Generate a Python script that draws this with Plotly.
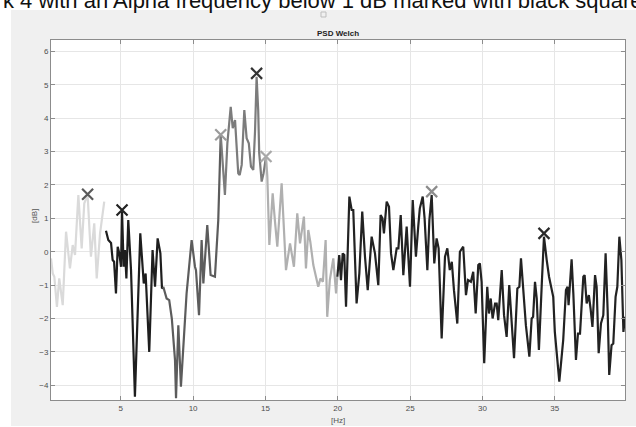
import plotly.graph_objects as go

# ---- data ----
delta_f = [0.18, 0.30, 0.41, 0.59, 0.75, 0.99, 1.22, 1.49, 1.68, 1.84, 2.07, 2.30, 2.48, 2.71, 2.94, 3.17, 3.34, 3.57, 3.86]
delta_p = [-0.2, -0.65, -0.75, -1.65, -0.8, -1.6, 0.6, -0.5, 0.2, -0.1, 1.7, 0.1, 1.45, 1.7, -0.15, 0.85, -0.8, 0.55, 1.5]

theta_f = [3.98, 4.14, 4.33, 4.44, 4.54, 4.67, 4.79, 4.90, 5.02, 5.09, 5.20, 5.29, 5.39, 5.52, 5.71, 5.98, 6.35, 6.59, 6.72, 6.97, 7.20, 7.37, 7.55, 7.74, 7.85, 7.94]
theta_p = [0.63, 0.35, 0.26, -0.25, -0.3, -1.25, 0.15, -0.05, -0.45, 1.2, -0.45, 0.05, -0.8, 0.95, -0.55, -4.34, 0.55, -0.95, -0.65, -3.0, 0.05, -1.05, 0.4, -0.05, -1.1, -1.05]

alpha_f = [7.94, 8.17, 8.35, 8.53, 8.75, 8.82, 8.98, 9.16, 9.55, 9.90, 10.13, 10.20, 10.41, 10.59, 10.71, 10.98, 11.21, 11.51, 11.74, 11.91]
alpha_p = [-1.05, -1.4, -1.45, -2.0, -3.24, -4.39, -2.2, -4.04, -1.25, 0.35, -0.45, -0.55, -1.9, 0.35, -0.95, 0.8, -0.7, -0.75, 0.95, 3.5]

beta1_f = [11.91, 12.09, 12.20, 12.37, 12.60, 12.74, 12.90, 13.12, 13.22, 13.36, 13.54, 13.70, 13.85, 14.00, 14.16, 14.28, 14.39, 14.50, 14.57, 14.74, 14.87, 15.04]
beta1_p = [3.5, 2.45, 1.7, 3.25, 4.34, 3.7, 3.94, 2.35, 2.3, 2.6, 4.24, 3.4, 3.25, 2.55, 2.45, 3.6, 5.24, 4.24, 2.95, 2.1, 2.35, 2.85]

beta2_f = [15.04, 15.13, 15.27, 15.50, 15.66, 15.82, 16.12, 16.42, 16.70, 16.97, 17.20, 17.39, 17.66, 17.80, 17.96, 18.10, 18.31, 18.65, 18.80, 18.97, 19.16, 19.27, 19.45, 19.69, 19.88, 19.97]
beta2_p = [2.85, 2.25, 0.2, 1.75, 0.9, 0.15, 2.05, -0.55, 0.25, -0.45, 1.15, 0.25, 1.05, -0.5, 0.65, 0.3, -0.4, -1.05, -0.8, -0.9, 0.35, -1.95, -0.85, -0.2, -1.25, -0.75]

gamma_f = [19.97, 20.10, 20.22, 20.34, 20.45, 20.57, 20.80, 20.96, 21.07, 21.30, 21.49, 21.69, 21.88, 22.07, 22.34, 22.57, 22.80, 22.96, 23.09, 23.19,
           23.38, 23.54, 23.68, 23.84, 24.07, 24.19, 24.35, 24.53, 24.76, 24.99, 25.18, 25.40, 25.56, 25.67, 25.87, 26.00, 26.19, 26.33, 26.49, 26.67,
           26.83, 26.97, 27.18, 27.41, 27.57, 27.74, 27.88, 28.03, 28.26, 28.44, 28.67, 28.86, 29.00, 29.20, 29.36, 29.53, 29.71, 29.82, 29.94, 30.12,
           30.33, 30.45, 30.57, 30.70, 30.87, 30.98, 31.09, 31.33, 31.49, 31.67, 31.85, 32.00, 32.18, 32.41, 32.55, 32.66, 32.82, 33.00, 33.24, 33.40,
           33.50, 33.63, 33.75, 33.90, 34.10, 34.25, 34.44, 34.60, 34.89, 35.00, 35.31, 35.58, 35.77, 35.88, 35.95, 36.16, 36.28, 36.46, 36.60, 36.74,
           36.97, 37.06, 37.20, 37.35, 37.47, 37.60, 37.78, 37.89, 38.03, 38.19, 38.35, 38.51, 38.65, 38.76, 38.92, 39.04, 39.20, 39.32, 39.46, 39.60,
           39.74, 39.85]
gamma_p = [-0.75, -0.1, -0.85, -0.05, -0.1, -1.65, 1.65, 1.25, 1.25, -1.55, -0.65, 1.2, -0.15, -1.15, 0.45, -0.05, -1.0, 1.1, 1.0, 0.55,
           1.5, 1.35, -0.05, -0.55, 0.1, 0.1, 1.1, -0.7, 0.75, -1.05, 1.55, -0.15, 0.75, 1.3, 1.65, 1.0, -0.55, 0.95, 1.7, -0.35,
           0.4, 0.1, -2.6, -0.15, 0.1, -0.55, -0.3, -1.15, -2.15, 0.0, 0.15, -1.3, -0.85, -0.9, -0.6, -1.85, -0.4, -0.35, -0.9, -3.34,
           -1.05, -1.85, -1.4, -2.0, -1.55, -1.55, -2.05, -0.55, -1.9, -2.55, -1.0, -1.9, -3.19, -1.1, -1.05, -0.2, -1.25, -2.2, -3.14, -2.0,
           -1.95, -0.9, -1.4, -2.94, -0.95, 0.45, -0.25, -0.75, -1.35, -2.4, -3.89, -2.64, -1.15, -1.05, -1.6, -0.23, -1.25, -3.24, -2.45, -2.45,
           -0.75, -0.7, -1.55, -1.3, -1.7, -2.25, -0.7, -1.05, -3.04, -2.15, -1.9, -0.05, -1.75, -3.69, -2.8, -2.75, -1.35, -1.05, 0.45, -0.25,
           -2.4, -1.95]

peak_f = [2.71, 5.09, 11.91, 14.39, 15.04, 26.49, 34.25]
peak_p = [1.72, 1.25, 3.5, 5.34, 2.85, 1.8, 0.55]
peak_colors = ["#5a5a5a", "#222222", "#9c9c9c", "#333333", "#a8a8a8", "#8c8c8c", "#2a2a2a"]

x_ticks = [5, 10, 15, 20, 25, 30, 35]
y_ticks = [-4, -3, -2, -1, 0, 1, 2, 3, 4, 5, 6]

segments = [
    (delta_f, delta_p, "#dadada"),
    (theta_f, theta_p, "#1e1e1e"),
    (alpha_f, alpha_p, "#5c5c5c"),
    (beta1_f, beta1_p, "#7c7c7c"),
    (beta2_f, beta2_p, "#b0b0b0"),
    (gamma_f, gamma_p, "#222222"),
]

fig = go.Figure()
for f, p, c in segments:
    fig.add_trace(go.Scatter(x=f, y=p, mode="lines", line=dict(color=c, width=2.2),
                             showlegend=False, hoverinfo="skip"))
fig.add_trace(go.Scatter(x=peak_f, y=peak_p, mode="markers",
                         marker=dict(symbol="x-thin", size=11, color=peak_colors,
                                     line=dict(color=peak_colors, width=2.2)),
                         showlegend=False, hoverinfo="skip"))

W, H = 636, 427
L, R, T, B = 51, 11, 40, 27
pw, ph = W - L - R, H - T - B

def px(xp):
    return (xp - L) / pw

def py(yp):
    return (H - B - yp) / ph

axis_common = dict(showline=True, linecolor="#8c8c8c", linewidth=1, mirror="ticks",
                   ticks="inside", ticklen=4, tickcolor="#8c8c8c",
                   showgrid=True, gridcolor="#e6e6e6", gridwidth=1, zeroline=False,
                   tickfont=dict(family="Liberation Sans, Arial", size=8, color="#4d4d4d"))

fig.update_layout(
    width=W, height=H,
    margin=dict(l=L, r=R, t=T, b=B),
    paper_bgcolor="#f0f0f0",
    plot_bgcolor="white",
    xaxis=dict(range=[0.18, 39.85], tickvals=x_ticks, **axis_common),
    yaxis=dict(range=[-4.44, 6.34], tickvals=y_ticks, **axis_common),
    shapes=[
        dict(type="rect", xref="paper", yref="paper", x0=px(-5), x1=px(11), y0=py(H + 5), y1=py(-5),
             fillcolor="white", line=dict(width=0), layer="below"),
        dict(type="rect", xref="paper", yref="paper", x0=px(-5), x1=px(W + 5), y0=py(10), y1=py(-5),
             fillcolor="white", line=dict(width=0), layer="below"),
        dict(type="rect", xref="paper", yref="paper", x0=px(-5), x1=px(W + 5), y0=py(H + 5), y1=py(426),
             fillcolor="white", line=dict(width=0), layer="below"),
        dict(type="rect", xref="paper", yref="paper", x0=px(321), x1=px(326), y0=py(17), y1=py(12),
             fillcolor="rgba(0,0,0,0)", line=dict(width=1, color="#bdbdbd"), layer="below"),
    ],
    annotations=[
        dict(text="<b>PSD Welch</b>", xref="paper", yref="paper", x=px(338), y=py(33),
             showarrow=False, xanchor="center", yanchor="middle",
             font=dict(family="Liberation Sans, Arial", size=8, color="#222222")),
        dict(text="[Hz]", xref="paper", yref="paper", x=px(338), y=py(420),
             showarrow=False, xanchor="center", yanchor="middle",
             font=dict(family="Liberation Sans, Arial", size=8, color="#555555")),
        dict(text="[dB]", xref="paper", yref="paper", x=px(34), y=py(216), textangle=-90,
             showarrow=False, xanchor="center", yanchor="middle",
             font=dict(family="Liberation Sans, Arial", size=8, color="#555555")),
        dict(text="k 4 with an Alpha frequency below 1 dB marked with black square", xref="paper", yref="paper",
             x=px(1), y=py(1), showarrow=False, xanchor="left", yanchor="middle",
             font=dict(family="Liberation Sans, Arial", size=22, color="#111111")),
    ],
)

fig.write_html("out.html", config={"displayModeBar": False},
               post_script="document.body.style.margin='0px';document.body.style.overflow='hidden';")
